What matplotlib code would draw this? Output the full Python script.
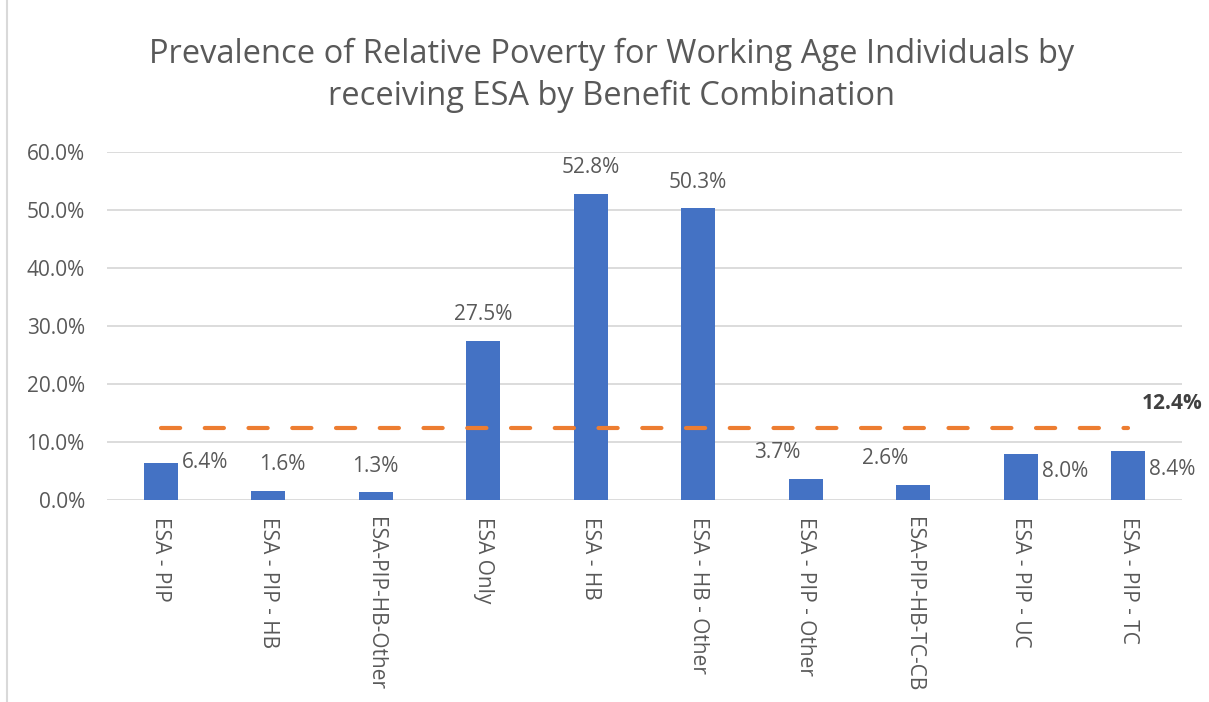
import matplotlib.pyplot as plt
import matplotlib.ticker as ticker
from matplotlib.lines import Line2D

categories = ['ESA - PIP', 'ESA - PIP - HB', 'ESA-PIP-HB-Other', 'ESA Only', 'ESA - HB',
              'ESA - HB - Other', 'ESA - PIP - Other', 'ESA-PIP-HB-TC-CB', 'ESA - PIP - UC',
              'ESA - PIP - TC']
poverty_rate = [6.4, 1.6, 1.3, 27.5, 52.8, 50.3, 3.7, 2.6, 8.0, 8.4]
average_rate = 12.4

# label placement: (kind, dx px) relative to bar top
label_pos = [('right', 0), ('above', 14), ('above', 0), ('above', 0), ('above', 0),
             ('above', 0), ('above', -28), ('above', -28), ('right_low', 0), ('right_low', 0)]

TEXT = '#595959'
BLUE = '#4472C4'
ORANGE = '#ED7D31'
FS = 15


def plotting():
    plt.rcParams['font.family'] = ['Open Sans', 'DejaVu Sans']
    W, H = 1209, 702
    fig = plt.figure(figsize=(W / 100, H / 100), dpi=100)
    ax = fig.add_axes([107 / W, 1 - 500 / H, (1182 - 107) / W, (500 - 152) / H])

    x = range(len(categories))
    ax.bar(x, poverty_rate, width=0.316, color=BLUE, zorder=2)
    ax.plot([0, len(categories) - 1], [average_rate] * 2, color=ORANGE, lw=3.0,
            dashes=(4.6, 5.9), dash_capstyle='round', zorder=3)

    ax.set_xlim(-0.5, len(categories) - 0.5)
    ax.set_ylim(0, 60)
    ax.yaxis.set_major_locator(ticker.MultipleLocator(10))
    ax.yaxis.set_major_formatter(ticker.FuncFormatter(lambda v, pos: '{:.1f}%'.format(v)))
    ax.set_xticks(list(x))
    ax.set_xticklabels(categories, rotation=-90, ha='center', va='top')

    for s in ax.spines.values():
        s.set_visible(False)
    ax.grid(True, 'major', 'y', color='#D9D9D9', lw=1.3, zorder=0)
    ax.set_axisbelow(True)
    ax.tick_params(axis='both', length=0, labelsize=FS, colors=TEXT)
    ax.tick_params(axis='x', pad=12)
    ax.tick_params(axis='y', pad=16)

    for i, v in enumerate(poverty_rate):
        kind, dx = label_pos[i]
        if kind == 'above':
            ax.annotate('{:.1f}%'.format(v), (i, v), xytext=(dx * 0.72, 26 * 0.72),
                        textcoords='offset points', ha='center', va='center',
                        fontsize=FS, color=TEXT)
        else:
            dy = 0 if kind == 'right' else -18
            ax.annotate('{:.1f}%'.format(v), (i + 0.158, v), xytext=(4 * 0.72, dy * 0.72),
                        textcoords='offset points', ha='left', va='center',
                        fontsize=FS, color=TEXT)

    ax.annotate('{:.1f}%'.format(average_rate), (len(categories) - 1, average_rate),
                xytext=(14 * 0.72, 25 * 0.72), textcoords='offset points', ha='left',
                va='center', fontsize=FS, color='#404040', fontweight='bold')

    fig.text(0.5055, 1 - 75 / H,
             'Prevalence of Relative Poverty for Working Age Individuals by\n'
             'receiving ESA by Benefit Combination',
             ha='center', va='center', fontsize=23.5, color=TEXT, linespacing=1.35)

    fig.add_artist(Line2D([7 / W, 7 / W], [0, 1], color='#D9D9D9', lw=1.5))

    plt.savefig('out.png', dpi=100)


if __name__ == '__main__':
    plotting()
